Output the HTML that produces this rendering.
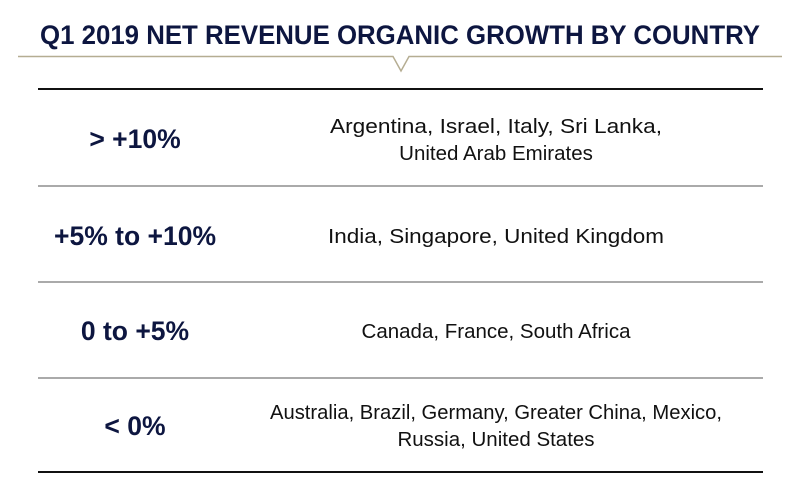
<!DOCTYPE html>
<html><head><meta charset="utf-8"><style>
html,body{margin:0;padding:0;background:#fff;}
svg{display:block;}
</style></head><body>
<svg width="800" height="498" viewBox="0 0 800 498" xmlns="http://www.w3.org/2000/svg">
<text x="400" y="44" text-anchor="middle" font-family="Liberation Sans, sans-serif" font-weight="bold" font-size="27" fill="#0d1640" textLength="720" lengthAdjust="spacingAndGlyphs">Q1 2019 NET REVENUE ORGANIC GROWTH BY COUNTRY</text>
<polyline points="18,56.5 393,56.5 401,71 409,56.5 782,56.5" fill="none" stroke="#b5ad92" stroke-width="1.5"/>
<line x1="38" y1="89" x2="763" y2="89" stroke="#111" stroke-width="2"/>
<line x1="38" y1="186" x2="763" y2="186" stroke="#555" stroke-width="1"/>
<line x1="38" y1="282" x2="763" y2="282" stroke="#555" stroke-width="1"/>
<line x1="38" y1="378" x2="763" y2="378" stroke="#555" stroke-width="1"/>
<line x1="38" y1="472" x2="763" y2="472" stroke="#111" stroke-width="2"/>
<g font-family="Liberation Sans, sans-serif" font-weight="bold" font-size="26.5" fill="#0d1640" text-anchor="middle">
<text x="135" y="148">&gt; +10%</text>
<text x="135" y="245">+5% to +10%</text>
<text x="135" y="340">0 to +5%</text>
<text x="135" y="435">&lt; 0%</text>
</g>
<g font-family="Liberation Sans, sans-serif" font-size="20.5" fill="#111" text-anchor="middle">
<text x="496" y="133" textLength="332" lengthAdjust="spacingAndGlyphs">Argentina, Israel, Italy, Sri Lanka,</text>
<text x="496" y="160">United Arab Emirates</text>
<text x="496" y="243" textLength="336" lengthAdjust="spacingAndGlyphs">India, Singapore, United Kingdom</text>
<text x="496" y="338">Canada, France, South Africa</text>
<text x="496" y="419" textLength="452" lengthAdjust="spacingAndGlyphs">Australia, Brazil, Germany, Greater China, Mexico,</text>
<text x="496" y="446">Russia, United States</text>
</g>
</svg>
</body></html>
